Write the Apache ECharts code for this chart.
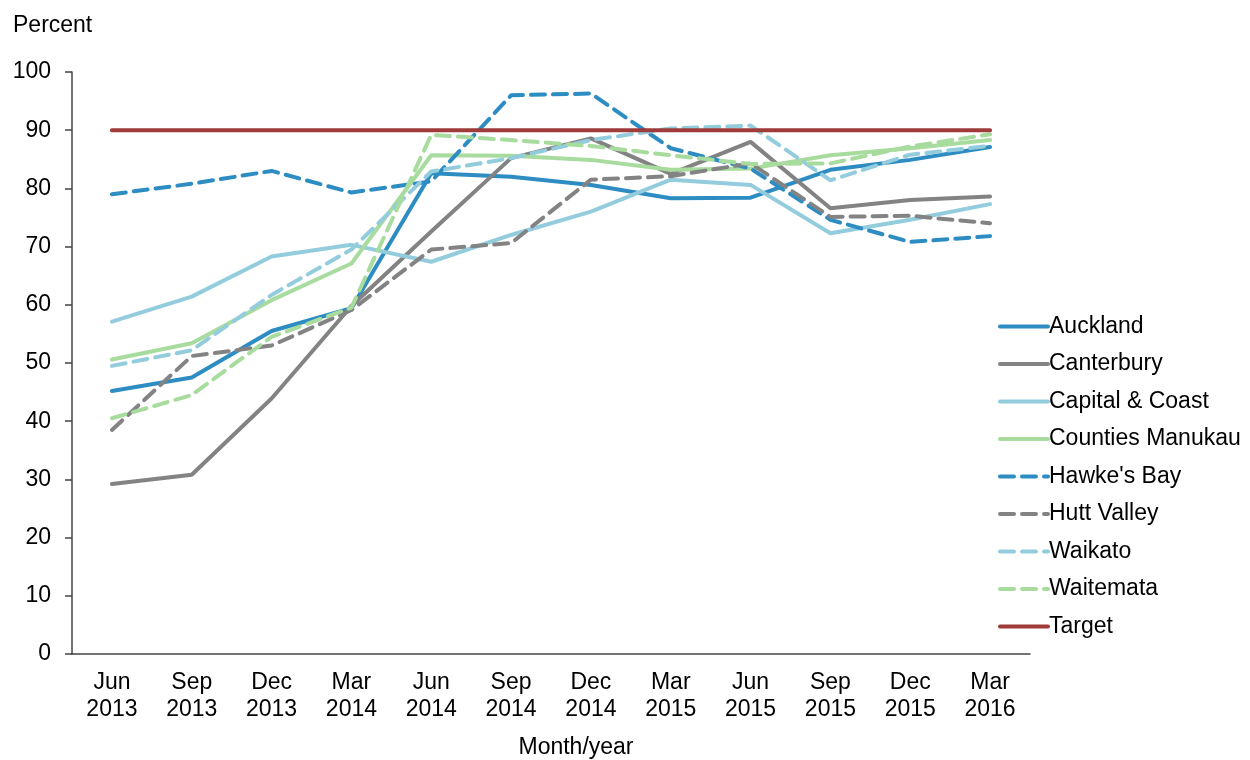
<!DOCTYPE html>
<html>
<head>
<meta charset="utf-8">
<script src="https://cdn.jsdelivr.net/npm/echarts@6/dist/echarts.min.js"></script>
<style>
  html, body { margin: 0; padding: 0; background: #fff; }
  #chart { width: 1250px; height: 760px; }
</style>
</head>
<body>
<div id="chart"></div>
<script>
var categories = ['Jun\n2013', 'Sep\n2013', 'Dec\n2013', 'Mar\n2014', 'Jun\n2014', 'Sep\n2014',
                  'Dec\n2014', 'Mar\n2015', 'Jun\n2015', 'Sep\n2015', 'Dec\n2015', 'Mar\n2016']

var auckland   = [45.2, 47.5, 55.5, 59.4, 82.6, 82.0, 80.6, 78.3, 78.4, 83.2, 84.9, 87.1]
var canterbury = [29.2, 30.8, 43.9, 59.8, 72.6, 85.2, 88.6, 82.5, 88.0, 76.6, 78.0, 78.6]
var capital    = [57.1, 61.4, 68.3, 70.3, 67.4, 72.0, 76.0, 81.5, 80.6, 72.3, 74.6, 77.3]
var counties   = [50.6, 53.4, 60.8, 67.1, 85.7, 85.6, 84.9, 83.2, 83.4, 85.7, 86.9, 88.3]
var hawkes     = [79.0, 80.8, 83.0, 79.3, 81.2, 96.0, 96.3, 86.9, 83.4, 74.6, 70.8, 71.8]
var hutt       = [38.5, 51.2, 53.0, 59.1, 69.5, 70.6, 81.5, 82.1, 84.3, 75.1, 75.3, 74.0]
var waikato    = [49.5, 52.2, 61.7, 69.5, 82.9, 85.2, 88.3, 90.3, 90.8, 81.4, 85.8, 87.3]
var waitemata  = [40.5, 44.5, 54.5, 59.5, 89.2, 88.3, 87.3, 85.7, 84.2, 84.3, 87.2, 89.3]
var target     = [90, 90, 90, 90, 90, 90, 90, 90, 90, 90, 90, 90]

var font = 'Liberation Sans, Arial, sans-serif'
var darkBlue = '#2D8DC3'
var grey = '#838383'
var lightBlue = '#93CDDD'
var lightGreen = '#A8DB9E'
var red = '#A03B3B'

function line(name, data, color, dashed) {
    return {
        name: name,
        type: 'line',
        data: data,
        symbol: 'none',
        silent: true,
        lineStyle: {
            color: color,
            width: 4,
            type: dashed ? [14, 8] : 'solid',
            cap: 'round'
        },
        itemStyle: { color: color }
    }
}

var chart = echarts.init(document.getElementById('chart'))
chart.setOption({
    animation: false,
    textStyle: { fontFamily: font },
    title: {
        text: 'Percent',
        left: 8,
        top: 9,
        textStyle: { fontFamily: font, fontSize: 23, fontWeight: 'normal', color: '#000' }
    },
    grid: { left: 72, right: 220, top: 72, bottom: 106, outerBoundsMode: 'none' },
    legend: {
        orient: 'vertical',
        left: 993,
        top: 310,
        itemWidth: 48,
        itemHeight: 20,
        itemGap: 14.5,
        itemStyle: { opacity: 0 },
        lineStyle: { width: 4 },
        textStyle: { fontFamily: font, fontSize: 23, lineHeight: 23, color: '#000', padding: [0, 0, 0, -4] },
        data: ['Auckland', 'Canterbury', 'Capital & Coast', 'Counties Manukau', "Hawke's Bay",
               'Hutt Valley', 'Waikato', 'Waitemata', 'Target']
    },
    xAxis: {
        type: 'category',
        data: categories,
        boundaryGap: true,
        name: 'Month/year',
        nameLocation: 'middle',
        nameGap: 82,
        nameTextStyle: { fontFamily: font, fontSize: 23, color: '#000', padding: [0, 0, 0, 50] },
        axisLine: { lineStyle: { color: '#444', width: 1.5 } },
        axisTick: { show: false },
        axisLabel: { fontFamily: font, fontSize: 23, lineHeight: 27, color: '#000', margin: 15 }
    },
    yAxis: {
        type: 'value',
        min: 0,
        max: 100,
        interval: 10,
        splitLine: { show: false },
        axisLine: { show: true, lineStyle: { color: '#444', width: 1.5 } },
        axisTick: { show: true, length: 7, lineStyle: { color: '#444', width: 1.5 } },
        axisLabel: { fontFamily: font, fontSize: 23, color: '#000', margin: 21 }
    },
    series: [
        line('Auckland', auckland, darkBlue, false),
        line('Canterbury', canterbury, grey, false),
        line('Capital & Coast', capital, lightBlue, false),
        line('Counties Manukau', counties, lightGreen, false),
        line("Hawke's Bay", hawkes, darkBlue, true),
        line('Hutt Valley', hutt, grey, true),
        line('Waikato', waikato, lightBlue, true),
        line('Waitemata', waitemata, lightGreen, true),
        line('Target', target, red, false)
    ]
})
</script>
</body>
</html>
